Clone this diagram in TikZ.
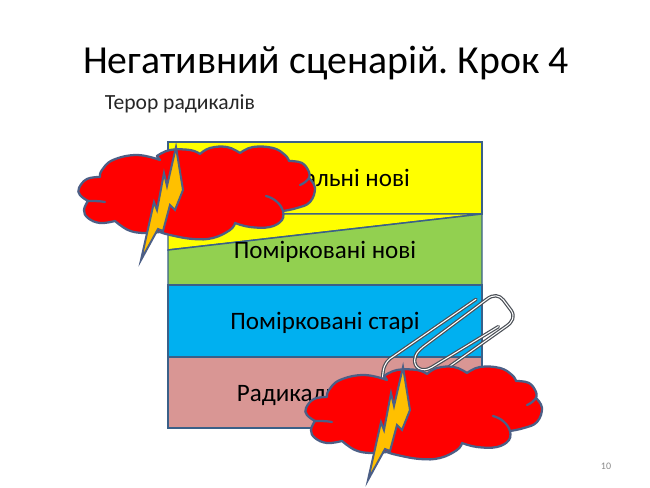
\documentclass[tikz,border=0pt]{standalone}
\usepackage{fontspec}
\setmainfont{Carlito}
\frenchspacing
\tikzset{
  px/.style={x=0.75pt,y=-0.75pt},
  band/.style={draw=bandline,line width=1.1pt},
  bandtext/.style={font=\fontsize{18.8}{20}\selectfont,text=black,anchor=center,inner sep=0pt},
  cloudshape/.style={draw=cloudline,fill=red,line width=1.7pt,line join=round},
  cloudcrease/.style={draw=cloudline,line width=1.7pt,line cap=round},
  boltshape/.style={draw=cloudline,fill=boltfill,line width=1.5pt,line join=miter},
  clipouter/.style={draw=clipgray,line width=2.6pt,line cap=round,line join=round},
  clipinner/.style={draw=white,line width=0.8pt,line cap=round,line join=round}
}
\definecolor{bandline}{HTML}{3A6088}
\definecolor{cloudline}{HTML}{4C5F86}
\definecolor{boltfill}{HTML}{FFC000}
\definecolor{bandyellow}{HTML}{FFFF00}
\definecolor{bandgreen}{HTML}{92D050}
\definecolor{bandblue}{HTML}{00B0F0}
\definecolor{bandpink}{HTML}{D99694}
\definecolor{clipgray}{HTML}{4A4F56}
\definecolor{pagenum}{HTML}{8B8B8B}
\newcommand{\stormcloud}[2]{%
\begin{scope}[shift={(#1,#2)}]
  \path[cloudshape] (100,176)
    -- plot[smooth,tension=0.7] coordinates {(100,176)(102,170)(113,160)(137,155)(160,160)}
    -- plot[smooth,tension=0.7] coordinates {(157,156)(170,150)(190,150)(200,154)}
    -- plot[smooth,tension=0.7] coordinates {(200,154)(210,148)(227,147)(240,153)}
    -- plot[smooth,tension=0.7] coordinates {(240,153)(253,147)(273,148)(285,155)(289,161)}
    -- plot[smooth,tension=0.7] coordinates {(289,161)(302,163)(309,172)(309,178)}
    -- plot[smooth,tension=0.7] coordinates {(309,178)(315,188)(310,202)(297,208)(283,211)}
    -- plot[smooth,tension=0.7] coordinates {(283,211)(282,220)(270,227)(250,227)(235,223)}
    -- plot[smooth,tension=0.7] coordinates {(235,223)(230,230)(213,238)(193,239)(170,235)(160,232)}
    -- plot[smooth,tension=0.7] coordinates {(160,232)(143,233)(128,230)(115,221)}
    -- plot[smooth,tension=0.7] coordinates {(115,221)(100,223)(88,218)(84,210)(88,201)}
    -- plot[smooth,tension=0.7] coordinates {(88,201)(80,195)(79,188)(87,179)(100,177)}
    -- cycle;
  \path[cloudcrease] (88,201) .. controls (94,201) and (100,201) .. (105,202);
  \path[cloudcrease] (266,196) .. controls (274,198) and (281,204) .. (283,211);
  \path[cloudcrease] (300,185) .. controls (303,184) and (307,181) .. (309,178);
  \path[boltshape] (176,147) -- (183,190) -- (175,210) -- (170,205) -- (163,231) -- (158,229) -- (141,260) -- (154,202) -- (157,210) -- (164,173) -- (167,186) -- cycle;
\end{scope}}
\begin{document}
\begin{tikzpicture}[px]
\useasboundingbox (0,0) rectangle (650,488);
\fill[white] (0,0) rectangle (650,488);
\node[anchor=center,inner sep=0pt,font=\fontsize{29.8}{32}\selectfont,text=black] (title) at (326,63.5) {Негативний сценарій. Крок 4};
\node[anchor=center,inner sep=0pt,font=\fontsize{16.2}{18}\selectfont,text=black!85] (subtitle) at (180,104) {Терор радикалів};
\path[band,fill=bandyellow] (168,142) rectangle (482,214);
\path[band,fill=bandyellow] (168,214) -- (482,214) -- (168,250) -- cycle;
\path[band,fill=bandgreen] (168,250) -- (482,214) -- (482,285) -- (168,285) -- cycle;
\path[band,fill=bandblue] (168,285) rectangle (482,357);
\path[band,fill=bandpink] (168,357) rectangle (482,428);
\node[bandtext] (t1) at (325,180) {Радикальні нові};
\node[bandtext] (t2) at (325,252) {Помірковані нові};
\node[bandtext] (t3) at (325,323) {Помірковані старі};
\node[bandtext] (t4) at (325,395) {Радикальні старі};
\node[anchor=center,inner sep=0pt,font=\fontsize{7.5}{9}\selectfont,text=pagenum] (num) at (606,466) {10};
\foreach \sty in {clipouter,clipinner}{
  \begin{scope}[shift={(320,280)},x=0.25pt,y=-0.25pt]
  \path[\sty] (468,58) -- (210,236) .. controls (195,248) and (188,265) .. (188,295);
  \path[\sty] (535,140) -- (335,262) .. controls (305,280) and (282,262) .. (284,240) .. controls (285,222) and (295,212) .. (310,200) -- (500,58) .. controls (520,42) and (538,45) .. (550,60) -- (574,92) .. controls (585,110) and (578,125) .. (560,138) -- (385,262);
  \end{scope}
}
\stormcloud{0}{0}
\stormcloud{227}{220}
\end{tikzpicture}
\end{document}
